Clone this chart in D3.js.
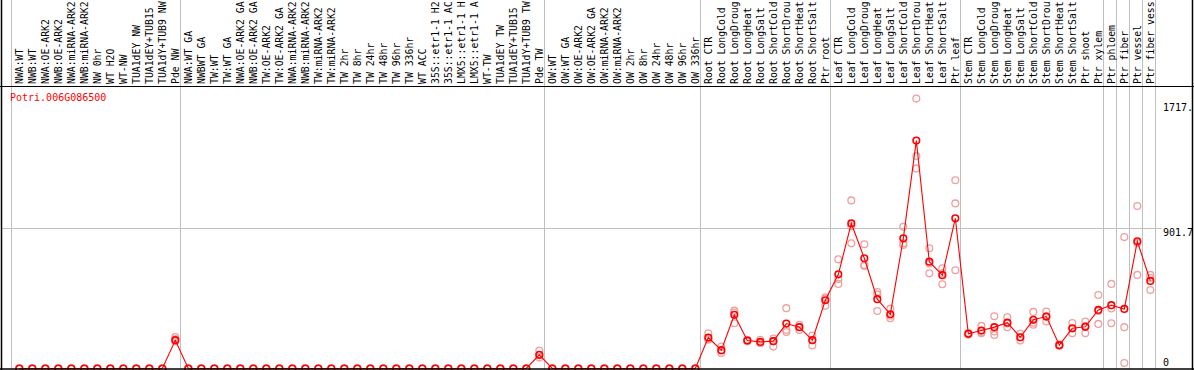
<!DOCTYPE html>
<html><head><meta charset="utf-8">
<script src="https://cdn.jsdelivr.net/npm/d3@7"></script>
<style>
body{margin:0;background:#fff}
svg{display:block}
text{font-family:"DejaVu Sans Mono",monospace;font-size:10px}
</style>
</head><body>
<svg id="c" width="1194" height="370"></svg>
<script>
const geneName = "Potri.006G086500";
const categories = [
 "NWA:WT","NWB:WT","NWA:OE-ARK2","NWB:OE-ARK2","NWA:miRNA-ARK2","NWB:miRNA-ARK2","NW 0hr","WT H2O","WT-NW",
 "TUA1dEY NW","TUA1dEY+TUB15","TUA1dY+TUB9 NW","Pde NW",
 "NWA:WT GA","NWBWT GA","TW:WT","TW:WT GA","NWA:OE-ARK2 GA","NWB:OE-ARK2 GA","TW:OE-ARK2","TW:OE-ARK2 GA",
 "NWA:miRNA-ARK2","NWB:miRNA-ARK2","TW:miRNA-ARK2","TW:miRNA-ARK2",
 "TW 2hr","TW 8hr","TW 24hr","TW 48hr","TW 96hr","TW 336hr","WT ACC",
 "35S::etr1-1 H2","35S::etr1-1 AC","LMX5::etr1-1 H","LMX5::etr1-1 A","WT-TW",
 "TUA1dEY TW","TUA1dEY+TUB15","TUA1dY+TUB9 TW","Pde TW",
 "OW:WT","OW:WT GA","OW:OE-ARK2","OW:OE-ARK2 GA","OW:miRNA-ARK2","OW:miRNA-ARK2",
 "OW 2hr","OW 8hr","OW 24hr","OW 48hr","OW 96hr","OW 336hr",
 "Root CTR","Root LongCold","Root LongDroug","Root LongHeat","Root LongSalt",
 "Root ShortCold","Root ShortDrou","Root ShortHeat","Root ShortSalt","Ptr root",
 "Leaf CTR","Leaf LongCold","Leaf LongDroug","Leaf LongHeat","Leaf LongSalt",
 "Leaf ShortCold","Leaf ShortDrou","Leaf ShortHeat","Leaf ShortSalt","Ptr leaf",
 "Stem CTR","Stem LongCold","Stem LongDroug","Stem LongHeat","Stem LongSalt",
 "Stem ShortCold","Stem ShortDrou","Stem ShortHeat","Stem ShortSalt","Ptr shoot",
 "Ptr xylem","Ptr phloem","Ptr fiber","Ptr vessel","Ptr fiber vess"
];
// values for indices 0..52 are zero except Pde NW (12) and Pde TW (40)
const meanValues = [
 0,0,0,0,0,0,0,0,0,0,0,0,182,
 0,0,0,0,0,0,0,0,0,0,0,0,0,0,0,0,0,0,0,0,0,0,0,0,0,0,0,88,
 0,0,0,0,0,0,0,0,0,0,0,0,
 199,118,345,180,171,176,289,266,182,439,
 606,933,709,446,349,837,1466,687,600,966,
 223,244,266,295,201,313,334,150,259,268,
 377,407,383,818,563
];
const rep1 = [
 0,0,0,0,0,0,0,0,0,0,0,0,202,
 0,0,0,0,0,0,0,0,0,0,0,0,0,0,0,0,0,0,0,0,0,0,0,0,0,0,0,116,
 0,0,0,0,0,0,0,0,0,0,0,0,
 227,141,372,185,185,193,388,281,212,458,
 702,1081,799,492,385,912,1736,773,645,1211,
 230,274,336,330,223,364,366,155,293,302,
 473,544,845,1045,602
];
const rep2 = [
 0,0,0,0,0,0,0,0,0,0,0,0,190,
 0,0,0,0,0,0,0,0,0,0,0,0,0,0,0,0,0,0,0,0,0,0,0,0,0,0,0,85,
 0,0,0,0,0,0,0,0,0,0,0,0,
 189,116,360,178,165,176,248,248,185,450,
 575,915,666,475,340,805,1367,675,612,1062,
 220,232,238,290,200,295,335,150,257,275,
 370,386,266,807,582
];
const rep3 = [
 0,0,0,0,0,0,0,0,0,0,0,0,176,
 0,0,0,0,0,0,0,0,0,0,0,0,0,0,0,0,0,0,0,0,0,0,0,0,0,0,0,70,
 0,0,0,0,0,0,0,0,0,0,0,0,
 185,100,291,175,162,141,235,268,148,403,
 544,805,660,370,323,795,1287,612,542,632,
 218,227,216,266,180,281,302,145,227,227,
 287,291,35,602,505
];
const groupStarts = [0,13,41,53,63,73,84,85,86,87,88];
const yTickValues = [0, 901.7, 1717.3];
const yTickLabels = ["0", "901.7", "1717."];
const yMax = 1803.4;

const svg = d3.select("#c");
const W = 1194, H = 370;
const headerBottom = 86, plotBottom = 369;
const xe = d3.scaleLinear().domain([0, categories.length]).range([11, 1155]);
const cx = i => xe(i + 0.64);
const y = d3.scaleLinear().domain([0, yMax]).range([368.5, 88.1]);

// vertical grid lines
svg.append("g").selectAll("line").data(groupStarts).join("line")
  .attr("x1", d => Math.round(xe(d)) + 0.5).attr("x2", d => Math.round(xe(d)) + 0.5)
  .attr("y1", 0).attr("y2", plotBottom)
  .attr("stroke", "#c0c0c0").attr("stroke-width", 1);

// horizontal grid line at middle tick
svg.append("line")
  .attr("x1", 1).attr("x2", 1162)
  .attr("y1", Math.round(y(yTickValues[1])) + 0.5).attr("y2", Math.round(y(yTickValues[1])) + 0.5)
  .attr("stroke", "#c0c0c0");

// header separator and borders
svg.append("line").attr("x1",0).attr("x2",W).attr("y1",headerBottom+0.5).attr("y2",headerBottom+0.5).attr("stroke","#000");
svg.append("line").attr("x1",1.5).attr("x2",1.5).attr("y1",0).attr("y2",H).attr("stroke","#000").attr("stroke-width",1.5);
svg.append("line").attr("x1",1192.5).attr("x2",1192.5).attr("y1",0).attr("y2",H).attr("stroke","#000").attr("stroke-width",1.5);

// header labels
svg.append("g").selectAll("text").data(categories).join("text")
  .attr("transform", (d,i) => `translate(${cx(i)+3.2},84) rotate(-90)`)
  .attr("fill", "#000")
  .style("font-size", "9.8px")
  .text(d => d);

// gene name
svg.append("text").attr("x", 10).attr("y", 101).attr("fill", "#ff0000").text(geneName);

// replicate circles
const reps = [rep1, rep2, rep3];
const repPts = [];
reps.forEach(r => r.forEach((v,i) => repPts.push({i, v})));
svg.append("g").selectAll("circle").data(repPts).join("circle")
  .attr("cx", d => cx(d.i)).attr("cy", d => y(d.v)).attr("r", 3.4)
  .attr("fill", "none").attr("stroke", "#f0a0a0").attr("stroke-width", 1.3);

// mean line
svg.append("path").datum(meanValues)
  .attr("d", d3.line().x((d,i) => cx(i)).y(d => y(d)))
  .attr("fill", "none").attr("stroke", "#ff0000").attr("stroke-width", 1.1);

// mean circles
svg.append("g").selectAll("circle").data(meanValues).join("circle")
  .attr("cx", (d,i) => cx(i)).attr("cy", d => y(d)).attr("r", 3.3)
  .attr("fill", "none").attr("stroke", "#ff0000").attr("stroke-width", 1.6);

// bottom border
svg.append("line").attr("x1",0).attr("x2",W).attr("y1",plotBottom).attr("y2",plotBottom).attr("stroke","#000").attr("stroke-width",1.5);

// y tick labels
svg.append("g").selectAll("text").data(yTickValues).join("text")
  .attr("x", 1163)
  .attr("y", (d,i) => i === 0 ? y(d) - 3 : (i === 2 ? y(d) + 10 : y(d) + 8))
  .attr("fill", "#000")
  .text((d,i) => yTickLabels[i]);
</script>
</body></html>
